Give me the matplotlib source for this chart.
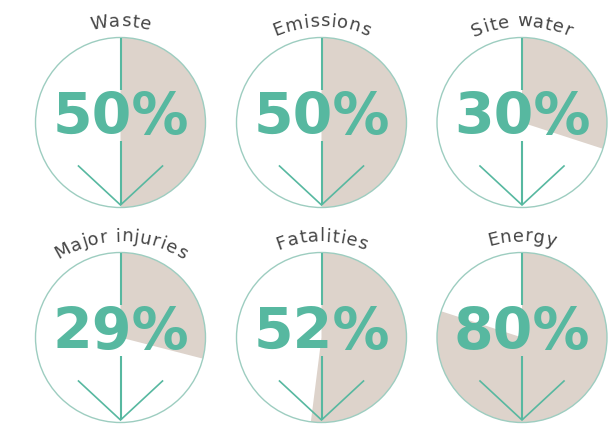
import numpy as np
import matplotlib
matplotlib.use("Agg")
import matplotlib.pyplot as plt
from matplotlib.patches import Wedge, Circle

# Share of each indicator, shown as a filled slice of a circle
labels = ["Waste", "Emissions", "Site water", "Major injuries", "Fatalities", "Energy"]
values = [50, 50, 30, 29, 52, 80]

TEAL = "#57b8a0"
BEIGE = "#ddd3cb"
RING = "#9dcdc0"
TITLE = "#444444"

W, H = 616, 425
fig = plt.figure(figsize=(W / 100, H / 100), dpi=100)
ax = fig.add_axes([0, 0, 1, 1])
ax.set_xlim(0, W)
ax.set_ylim(0, H)
ax.set_aspect("equal")
ax.axis("off")

col_x = [120.5, 321.5, 522.0]
row_y = [H - 122.5, H - 337.5]
R = 85.0

renderer = fig.canvas.get_renderer()
title_font = dict(family="DejaVu Sans", size=13, color=TITLE)


def char_width(ch):
    # advance width of one glyph, measured between two reference glyphs
    a = ax.text(0, 0, "l" + ch + "l", **title_font)
    b = ax.text(0, 0, "ll", **title_font)
    w = a.get_window_extent(renderer).width - b.get_window_extent(renderer).width
    a.remove(); b.remove()
    return w


def curved_title(text, cx, cy, lift=96.0, arc_r=115.0, tracking=0.7):
    widths = [char_width(c) for c in text]
    total = sum(widths) + tracking * (len(text) - 1)
    ox, oy = cx, cy + lift - arc_r
    s = -total / 2
    for c, w in zip(text, widths):
        mid = s + w / 2
        phi = mid / arc_r
        x = ox + arc_r * np.sin(phi)
        y = oy + arc_r * np.cos(phi)
        if c != " ":
            ax.text(x, y, c, ha="center", va="baseline",
                    rotation=-np.degrees(phi), rotation_mode="anchor",
                    **title_font)
        s += w + tracking


for i, (lab, val) in enumerate(zip(labels, values)):
    cx = col_x[i % 3]
    cy = row_y[i // 3]

    ax.add_patch(Wedge((cx, cy), R, 90 - 3.6 * val, 90,
                       facecolor=BEIGE, edgecolor="none", zorder=1))
    ax.add_patch(Circle((cx, cy), R, facecolor="none", edgecolor=RING,
                        linewidth=1.0, zorder=2))

    tip_y = cy - R + 2.5
    # vertical stem, interrupted behind the figure
    ax.plot([cx, cx], [cy + R, cy + 33], color=TEAL, lw=1.5,
            solid_capstyle="butt", zorder=3)
    ax.plot([cx, cx], [cy - 18, tip_y], color=TEAL, lw=1.5,
            solid_capstyle="butt", zorder=3)
    # arrow head
    ax.plot([cx - 42, cx, cx + 42], [tip_y + 39, tip_y, tip_y + 39],
            color=TEAL, lw=1.2, solid_joinstyle="miter", zorder=3)

    ax.text(cx, cy - 11.5, f"{val}%", ha="center", va="baseline",
            family="DejaVu Sans", weight="bold", size=41, color=TEAL,
            zorder=4)

    curved_title(lab, cx, cy)

fig.savefig("out.png", dpi=100, facecolor="white")
